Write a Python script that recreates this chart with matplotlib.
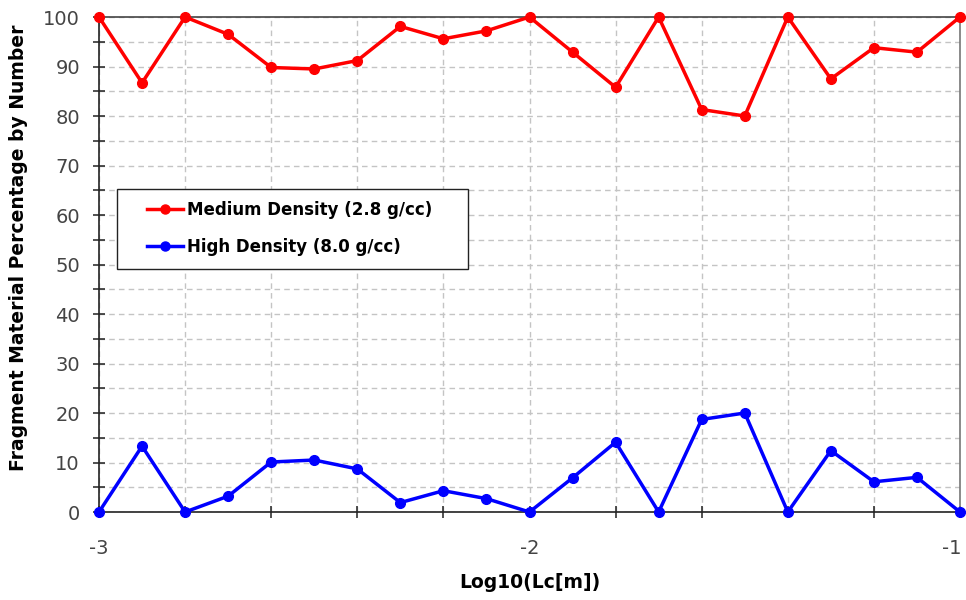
import numpy as np
import matplotlib
matplotlib.use("Agg")
import matplotlib.pyplot as plt
from matplotlib.ticker import MultipleLocator, FuncFormatter
from matplotlib.legend_handler import HandlerLine2D
from matplotlib.transforms import Affine2D

plt.rcParams['font.family'] = ['DejaVu Sans']

log_lc = [-3.0, -2.9, -2.8, -2.7, -2.6, -2.5, -2.4, -2.3, -2.2, -2.1, -2.0,
          -1.9, -1.8, -1.7, -1.6, -1.5, -1.4, -1.3, -1.2, -1.1, -1.0]
medium_density = [100.0, 86.7, 100.0, 96.5, 89.8, 89.5, 91.2, 98.1, 95.6, 97.2, 100.0,
                  92.9, 85.8, 100.0, 81.3, 80.0, 100.0, 87.5, 93.8, 92.9, 100.0]
high_density = [0.0, 13.3, 0.0, 3.2, 10.1, 10.5, 8.7, 1.9, 4.3, 2.7, 0.0,
                6.9, 14.1, 0.0, 18.7, 20.0, 0.0, 12.4, 6.1, 7.0, 0.0]
series_labels = ["Medium Density (2.8 g/cc)", "High Density (8.0 g/cc)"]
x_label = "Log10(Lc[m])"
y_label = "Fragment Material Percentage by Number"

W, H = 966, 600
AX_L, AX_R, AX_T, AX_B = 99, 960, 17, 512
AW, AH = AX_R - AX_L, AX_B - AX_T

fig = plt.figure(figsize=(W / 100, H / 100), dpi=100)
ax = fig.add_axes([AX_L / W, 1 - AX_B / H, AW / W, AH / H])

ax.plot(log_lc, medium_density, color="#ff0000", lw=2.5, marker="o", ms=7,
        label=series_labels[0], clip_on=False, zorder=4)
ax.plot(log_lc, high_density, color="#0000ff", lw=2.5, marker="o", ms=7,
        label=series_labels[1], clip_on=False, zorder=4)

ax.set_xlim(-3, -1)
ax.set_ylim(0, 100)
ax.xaxis.set_major_locator(MultipleLocator(0.2))
ax.yaxis.set_major_locator(MultipleLocator(5))


def x_fmt(v, pos):
    return f"{int(round(v))}" if abs(v - round(v)) < 1e-6 else ""


def y_fmt(v, pos):
    return f"{int(round(v))}" if int(round(v)) % 10 == 0 else ""


ax.xaxis.set_major_formatter(FuncFormatter(x_fmt))
ax.yaxis.set_major_formatter(FuncFormatter(y_fmt))

ax.grid(True, color="#c4c4c4", ls=(0, (4, 3)), lw=1.0, zorder=0)
ax.tick_params(axis="both", direction="inout", length=8.6, width=1.1, color="#222222",
               labelsize=14, labelcolor="#444444")
ax.tick_params(axis="x", pad=15)
ax.tick_params(axis="y", pad=9.4)

for side in ["left", "bottom"]:
    ax.spines[side].set_color("#222222")
    ax.spines[side].set_linewidth(1.2)
ax.spines["top"].set_color("#444444")
ax.spines["right"].set_color("#777777")
for side in ["top", "right"]:
    ax.spines[side].set_linewidth(1.2)

ax.set_xlabel(x_label, fontsize=13.5, fontweight="bold")
ax.xaxis.set_label_coords(0.5, -(573 - AX_B) / AH)
ax.set_ylabel(y_label, fontsize=13.5, fontweight="bold")
ax.yaxis.set_label_coords((28 - AX_L) / AW, (AX_B - 248) / AH)


class ShiftedLineHandler(HandlerLine2D):
    """Line handle drawn a fixed number of pixels to the right."""

    def __init__(self, shift_px, **kw):
        super().__init__(**kw)
        self.shift_px = shift_px

    def create_artists(self, legend, orig_handle, xdescent, ydescent, width,
                       height, fontsize, trans):
        artists = super().create_artists(legend, orig_handle, xdescent, ydescent,
                                         width, height, fontsize, trans)
        shift = Affine2D().translate(self.shift_px, 0)
        for a in artists:
            a.set_transform(a.get_transform() + shift)
        return artists


leg_fs_pt = 12
leg_fs_px = leg_fs_pt * 100 / 72
border_px = 12.3
shift_px = 30 - border_px
line_px = 36
leg_left, leg_right, leg_top, leg_bottom = 117, 468, 189, 269

handles, labels = ax.get_legend_handles_labels()
leg = ax.legend(
    handles, labels,
    loc="upper left",
    bbox_to_anchor=((leg_left - AX_L) / AW, (AX_B - leg_bottom) / AH,
                    (leg_right - leg_left) / AW, (leg_bottom - leg_top) / AH),
    mode="expand",
    frameon=True, fancybox=False, edgecolor="black", framealpha=1,
    prop={"size": leg_fs_pt, "weight": "bold"},
    handlelength=line_px / leg_fs_px,
    handletextpad=(shift_px + 4) / leg_fs_px,
    borderpad=border_px / leg_fs_px,
    labelspacing=1.14, borderaxespad=0,
    handler_map={h: ShiftedLineHandler(shift_px) for h in handles},
)
leg.get_frame().set_linewidth(1.0)
leg.get_frame().set_edgecolor("#222222")
for h in leg.legend_handles:
    h.set_markersize(6.5)

# keep the rightmost tick label inside the canvas
fig.canvas.draw()
for tick in ax.xaxis.get_major_ticks():
    if tick.label1.get_text() == "-1":
        tick.label1.set_transform(tick.label1.get_transform()
                                  + Affine2D().translate(-8, 0))

fig.savefig("out.png", dpi=100)
